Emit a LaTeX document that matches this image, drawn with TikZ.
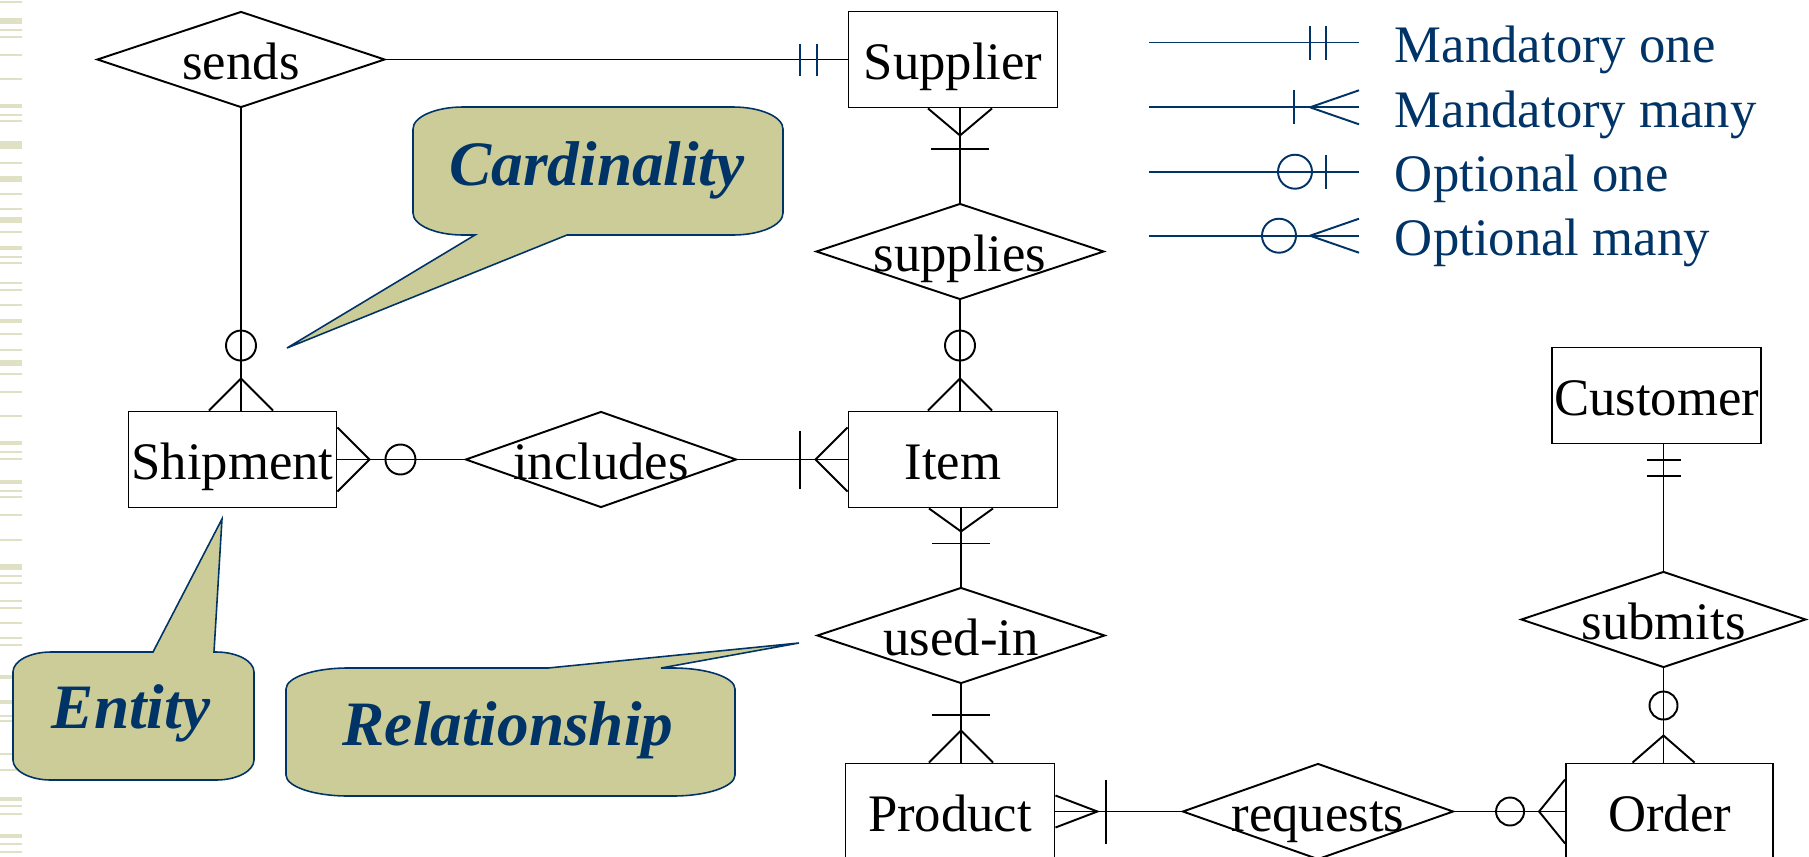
\documentclass[tikz,border=0pt]{standalone}
\usepackage{fontspec}
\setmainfont{Liberation Serif}
\usetikzlibrary{shapes.geometric}

\definecolor{navy}{RGB}{0,51,102}
\definecolor{khaki}{RGB}{204,204,153}
\definecolor{stripe}{RGB}{224,224,196}

\tikzset{
  entity/.style={draw, minimum width=4.18cm, minimum height=1.92cm, inner sep=0pt,
    text height=29pt, text depth=6pt},
  rel/.style={draw, diamond, shape aspect=3, minimum width=5.76cm, minimum height=1.92cm,
    inner sep=0pt, text height=29pt, text depth=6pt},
  key/.style={navy},
  keytext/.style={navy, anchor=west, inner sep=0pt, text height=29pt, text depth=6pt},
  bubble/.style={fill=khaki, draw=navy, line width=0.9pt},
  bubbletext/.style={navy, anchor=base, inner sep=0pt,
    font=\fontsize{36}{42}\selectfont\bfseries\itshape},
  pics/crow/.style 2 args={code={\draw (0,-#2) -- (-#1,0) -- (0,#2);}},
  pics/bar/.style 2 args={code={\draw (-#1,-#2) -- (-#1,#2);}},
  pics/ring/.style 2 args={code={\draw (-#1,0) circle (#2);}},
}

\begin{document}
\begin{tikzpicture}[x=0.02cm, y=-0.02cm, line width=1.1pt,
  every node/.style={font=\fontsize{30}{36}\selectfont}]
\useasboundingbox (0,0) rectangle (1809,856);
\clip (0,0) rectangle (1809,856);

% strepen links
\foreach \y/\w in {2/1.7, 21/3.4, 30/1.1, 37/1.1, 55/1.1, 79/1.1, 106/2.8, 115/1.1,
  121/1.1, 145/4.5, 163/1.1, 179/3.4, 194/1.1, 209/1.1, 220/3.4, 232/1.1, 248/2.8,
  257/1.1, 263/1.1, 283/1.1, 290/1.1, 305/1.1, 321/2.3, 334/1.1, 350/1.1, 363/3.4,
  374/1.1, 392/1.1, 416/1.1, 443/2.3, 452/1.1, 459/1.1, 482/2.8, 491/1.1, 497/1.1,
  515/1.1, 540/1.1, 567/3.4, 576/1.1, 583/1.1, 601/1.1, 608/1.1, 623/1.1, 638/1.1,
  645/1.1, 677/2.8, 702/2.8, 716/1.1, 721/1.1, 754/1.1, 770/1.1, 799/2.8, 806/1.1,
  814/1.1, 836/2.8, 844/1.1, 852/1.1}
  \draw[stripe, line width=\w pt] (0,\y) -- (22,\y);

% tekstballonnen
\draw[bubble] (463,107) -- (733,107) arc[start angle=-90, end angle=0, x radius=50, y radius=22]
  -- (783,213) arc[start angle=0, end angle=90, x radius=50, y radius=22]
  -- (567,235) -- (287,348) -- (475,235) -- (463,235)
  arc[start angle=90, end angle=180, x radius=50, y radius=22]
  -- (413,129) arc[start angle=180, end angle=270, x radius=50, y radius=22] -- cycle;
\node[bubbletext] (card) at (597,185) {Cardinality};

\draw[bubble] (51,652) -- (153,652) -- (222,519) -- (214,652) -- (216,652)
  arc[start angle=-90, end angle=0, x radius=38, y radius=20]
  -- (254,760) arc[start angle=0, end angle=90, x radius=38, y radius=20]
  -- (51,780) arc[start angle=90, end angle=180, x radius=38, y radius=20]
  -- (13,672) arc[start angle=180, end angle=270, x radius=38, y radius=20] -- cycle;
\node[bubbletext] (ent) at (131,728) {Entity};

\draw[bubble] (348,668) -- (548,668) -- (799,643) -- (661,668) -- (673,668)
  arc[start angle=-90, end angle=0, x radius=62, y radius=21]
  -- (735,775) arc[start angle=0, end angle=90, x radius=62, y radius=21]
  -- (348,796) arc[start angle=90, end angle=180, x radius=62, y radius=21]
  -- (286,689) arc[start angle=180, end angle=270, x radius=62, y radius=21] -- cycle;
\node[bubbletext] (relnote) at (508,745) {Relationship};

% entiteiten
\node[entity] (supplier) at (953,59.5) {Supplier};
\node[entity] (item) at (953,459.5) {Item};
\node[entity, minimum width=4.16cm] (shipment) at (232.5,459.5) {Shipment};
\node[entity] (customer) at (1656.5,395.5) {Customer};
\node[entity] (product) at (950,811.5) {Product};
\node[entity, minimum width=4.14cm] (order) at (1669.5,811.5) {Order};

% relaties
\node[rel] (sends) at (241,59.5) {\makebox[0pt]{sends}};
\node[rel] (supplies) at (960,251.5) {\makebox[0pt]{supplies}};
\node[rel, minimum width=5.42cm] (includes) at (601,459.5) {\makebox[0pt]{includes}};
\node[rel] (usedin) at (961,635.5) {\makebox[0pt]{used-in}};
\node[rel, minimum width=5.42cm] (requests) at (1318,811.5) {\makebox[0pt]{requests}};
\node[rel, minimum width=5.7cm] (submits) at (1663.5,619.5) {\makebox[0pt]{submits}};

% verbindingen
\draw (sends.east) -- (supplier.west);
\draw (sends.south) -- (sends.south |- shipment.north);
\draw (supplies.north) -- (supplies.north |- supplier.south);
\draw (supplies.south) -- (supplies.south |- item.north);
\draw (includes.west) -- (shipment.east);
\draw (includes.east) -- (item.west);
\draw (usedin.north) -- (usedin.north |- item.south);
\draw (usedin.south) -- (usedin.south |- product.north);
\draw (requests.west) -- (requests.west -| product.east);
\draw (requests.east) -- (requests.east -| order.west);
\draw (submits.north) -- (submits.north |- customer.south);
\draw (submits.south) -- (submits.south |- order.north);

% kardinaliteiten
\pic[key] at (supplier.west) {bar={31}{16}};
\pic[key] at (supplier.west) {bar={48}{16}};
\pic[rotate=90] at (supplies.north |- supplier.south) {crow={27}{32}};
\pic[rotate=90] at (supplies.north |- supplier.south) {bar={41}{29}};
\pic[rotate=-90] at (sends.south |- shipment.north) {crow={32}{32}};
\pic[rotate=-90] at (sends.south |- shipment.north) {ring={65}{15}};
\pic[rotate=-90] at (supplies.south |- item.north) {crow={32}{32}};
\pic[rotate=-90] at (supplies.south |- item.north) {ring={65}{15}};
\pic[rotate=180] at (shipment.east) {crow={32}{32}};
\pic[rotate=180] at (shipment.east) {ring={63}{15}};
\pic at (item.west) {crow={32}{32}};
\pic at (item.west) {bar={48}{29}};
\pic[rotate=90] at (usedin.north |- item.south) {crow={23}{32}};
\pic[rotate=90] at (usedin.north |- item.south) {bar={35}{29}};
\pic[rotate=-90] at (usedin.south |- product.north) {crow={32}{32}};
\pic[rotate=-90] at (usedin.south |- product.north) {bar={48}{29}};
\pic[rotate=180] at (requests.west -| product.east) {crow={42}{16}};
\pic[rotate=180] at (requests.west -| product.east) {bar={51}{32}};
\pic at (requests.east -| order.west) {crow={26}{32}};
\pic at (requests.east -| order.west) {ring={55}{14}};
\pic[rotate=90] at (submits.north |- customer.south) {bar={16}{17}};
\pic[rotate=90] at (submits.north |- customer.south) {bar={32}{17}};
\pic[rotate=-90] at (submits.south |- order.north) {crow={27}{31}};
\pic[rotate=-90] at (submits.south |- order.north) {ring={57}{14}};

% legenda
\coordinate (k1) at (1149,42.5);  \coordinate (e1) at (1359,42.5);
\coordinate (k2) at (1149,107.3); \coordinate (e2) at (1359,107.3);
\coordinate (k3) at (1149,171.7); \coordinate (e3) at (1359,171.7);
\coordinate (k4) at (1149,235.7); \coordinate (e4) at (1359,235.7);
\node[keytext] (mone) at (1394,42.5) {Mandatory one};
\node[keytext] (mmany) at (1394,107.3) {Mandatory many};
\node[keytext] (oone) at (1394,171.7) {Optional one};
\node[keytext] (omany) at (1394,235.7) {Optional many};
\draw[key] (k1) -- (e1);
\draw[key] (k2) -- (e2);
\draw[key] (k3) -- (e3);
\draw[key] (k4) -- (e4);
\pic[key] at (e1) {bar={33}{17}};
\pic[key] at (e1) {bar={49}{17}};
\pic[key] at (e2) {crow={49}{17}};
\pic[key] at (e2) {bar={65}{17}};
\pic[key] at (e3) {bar={33}{17}};
\pic[key] at (e3) {ring={64}{17}};
\pic[key] at (e4) {crow={49}{17}};
\pic[key] at (e4) {ring={80}{17}};
\end{tikzpicture}
\end{document}
